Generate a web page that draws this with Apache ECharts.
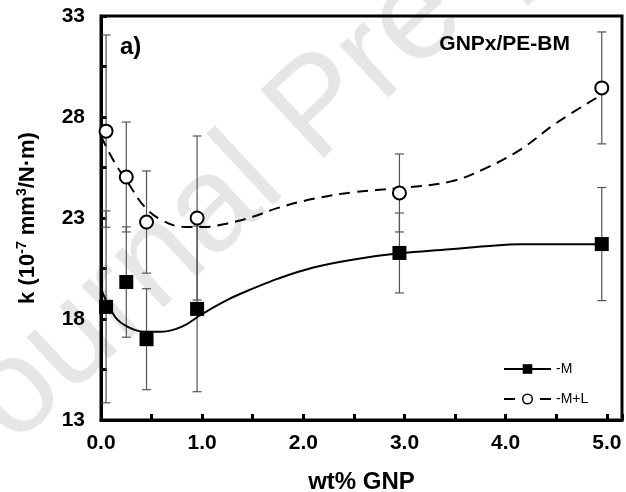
<!DOCTYPE html>
<html>
<head>
<meta charset="utf-8">
<script src="https://cdn.jsdelivr.net/npm/echarts@6/dist/echarts.min.js"></script>
<style>
  html, body { margin: 0; padding: 0; background: #fff; }
  #main { width: 626px; height: 492px; }
</style>
</head>
<body>
<div id="main"></div>
<script>
var FONT = '"Liberation Sans", Arial, sans-serif'

// measured points (wt% GNP, k) and error half-widths
var xM = [0.05, 0.25, 0.45, 0.95, 2.95, 4.95]
var yM = [18.6, 19.83, 17.0, 18.5, 21.27, 21.71]
var errM = [4.75, 2.73, 2.5, 4.1, 1.98, 2.8]

var xML = [0.05, 0.25, 0.45, 0.95, 2.95, 4.95]
var yML = [27.3, 25.03, 22.8, 23.0, 24.24, 29.44]
var errML = [4.76, 2.72, 2.53, 4.06, 1.93, 2.77]

// fitted trend curves
var fitX = [0, 0.14, 0.27, 0.43, 0.6, 0.8, 1.0, 1.25, 1.5, 1.75, 2.1, 2.5, 2.95, 3.45, 3.8, 4.15, 4.5, 4.95]
var fitM = [19.5, 18.1, 17.6, 17.37, 17.37, 17.62, 18.25, 18.95, 19.5, 20.0, 20.55, 20.95, 21.25, 21.45, 21.6, 21.7, 21.7, 21.7]
var fitML = [27.05, 25.7, 24.72, 23.56, 22.9, 22.57, 22.55, 22.73, 23.06, 23.5, 23.95, 24.28, 24.48, 24.8, 25.46, 26.4, 27.7, 29.1]

function pairs (xs, ys) {
  return xs.map(function (x, i) { return [x, ys[i]] })
}
function triples (xs, ys, es) {
  return xs.map(function (x, i) { return [x, ys[i], es[i]] })
}

function renderErr (params, api) {
  var x = api.value(0), y = api.value(1), e = api.value(2)
  var hi = api.coord([x, y + e])
  var lo = api.coord([x, y - e])
  var w = 4.5
  var st = { stroke: '#555', lineWidth: 1.2 }
  return {
    type: 'group',
    children: [
      { type: 'line', shape: { x1: hi[0], y1: hi[1], x2: lo[0], y2: lo[1] }, style: st },
      { type: 'line', shape: { x1: hi[0] - w, y1: hi[1], x2: hi[0] + w, y2: hi[1] }, style: st },
      { type: 'line', shape: { x1: lo[0] - w, y1: lo[1], x2: lo[0] + w, y2: lo[1] }, style: st }
    ]
  }
}

var chart = echarts.init(document.getElementById('main'))
var option = {
  animation: false,
  graphic: [{
    // watermark
    type: 'text',
    x: -15,
    y: 515,
    rotation: 43 * Math.PI / 180,
    z: -10,
    silent: true,
    style: {
      text: 'Journal Pre-proof',
      font: '135px ' + FONT,
      fill: '#e6e6e6',
      textAlign: 'left',
      textVerticalAlign: 'bottom'
    }
  }, {
    type: 'text',
    left: 120,
    top: 35,
    style: { text: 'a)', font: 'bold 24px ' + FONT, fill: '#000' }
  }, {
    type: 'text',
    right: 56,
    top: 34,
    style: { text: 'GNPx/PE-BM', font: 'bold 21px ' + FONT, fill: '#000' }
  }],
  legend: {
    orient: 'vertical',
    left: 503,
    top: 362,
    padding: 0,
    itemWidth: 47,
    itemHeight: 12,
    itemGap: 16,
    textStyle: { fontSize: 14, color: '#000', fontFamily: FONT },
    data: [
      { name: '-M', itemStyle: { color: '#000', borderWidth: 0 }, lineStyle: { color: '#000', width: 2, type: 'solid' } },
      { name: '-M+L', itemStyle: { color: '#fff', borderColor: '#000', borderWidth: 1.5 }, lineStyle: { color: '#000', width: 2, type: [11, 7] } }
    ]
  },
  grid: {
    left: 101,
    right: 4,
    top: 16,
    bottom: 72,
    outerBoundsMode: 'none',
    containLabel: false,
    show: true,
    borderColor: '#000',
    borderWidth: 3
  },
  xAxis: {
    type: 'value',
    min: 0,
    max: 5.15,
    interval: 0.5,
    name: 'wt% GNP',
    nameLocation: 'middle',
    nameGap: 50,
    nameTextStyle: { fontSize: 24, fontWeight: 'bold', color: '#000', fontFamily: FONT },
    axisLine: { lineStyle: { color: '#000', width: 3 } },
    axisTick: { inside: true, length: 6, lineStyle: { color: '#000', width: 3 } },
    axisLabel: {
      margin: 13,
      fontSize: 21,
      fontWeight: 'bold',
      color: '#000',
      fontFamily: FONT,
      formatter: function (v) {
        return (Math.abs(v - Math.round(v)) < 1e-6 && v <= 5.01) ? v.toFixed(1) : ''
      }
    },
    splitLine: { show: false }
  },
  yAxis: [{
    type: 'value',
    min: 13,
    max: 33,
    position: 'left',
    axisLine: { show: true, lineStyle: { color: '#000', width: 3 } },
    axisTick: { show: false },
    axisLabel: { show: false },
    splitLine: { show: false }
  }, {
    // tick/label axis, offset so ticks start at 13
    type: 'value',
    min: 0,
    max: 20,
    interval: 2.5,
    position: 'left',
    name: '{n|k (10}{s|-7}{n| mm}{s|3}{n|/N·m)}',
    nameLocation: 'middle',
    nameGap: 60,
    nameTextStyle: {
      rich: {
        n: { fontSize: 22, fontWeight: 'bold', color: '#000', fontFamily: FONT, lineHeight: 26 },
        s: { fontSize: 14, fontWeight: 'bold', color: '#000', fontFamily: FONT, lineHeight: 16, verticalAlign: 'top' }
      }
    },
    axisLine: { show: false },
    axisTick: { inside: true, length: 6, lineStyle: { color: '#000', width: 3 } },
    axisLabel: {
      margin: 16,
      fontSize: 21,
      fontWeight: 'bold',
      color: '#000',
      fontFamily: FONT,
      formatter: function (v) {
        return Math.abs(v % 5) < 1e-6 ? String(v + 13) : ''
      }
    },
    splitLine: { show: false }
  }],
  series: [{
    name: 'errM',
    type: 'custom',
    renderItem: renderErr,
    encode: { x: 0, y: 1 },
    yAxisIndex: 0,
    z: 1,
    data: triples(xM, yM, errM)
  }, {
    name: 'errML',
    type: 'custom',
    renderItem: renderErr,
    encode: { x: 0, y: 1 },
    yAxisIndex: 0,
    z: 1,
    data: triples(xML, yML, errML)
  }, {
    name: '-M',
    type: 'line',
    yAxisIndex: 0,
    smooth: 0.4,
    symbol: 'rect',
    showSymbol: false,
    z: 2,
    itemStyle: { color: '#000' },
    lineStyle: { color: '#000', width: 2 },
    data: pairs(fitX, fitM)
  }, {
    name: '-M+L',
    type: 'line',
    yAxisIndex: 0,
    smooth: 0.4,
    symbol: 'circle',
    showSymbol: false,
    z: 2,
    itemStyle: { color: '#fff', borderColor: '#000', borderWidth: 1.5 },
    lineStyle: { color: '#000', width: 2, type: [11, 7] },
    data: pairs(fitX, fitML)
  }, {
    name: 'ptsM',
    type: 'scatter',
    yAxisIndex: 0,
    symbol: 'rect',
    symbolSize: 14,
    z: 3,
    itemStyle: { color: '#000', opacity: 1 },
    data: pairs(xM, yM)
  }, {
    name: 'ptsML',
    type: 'scatter',
    yAxisIndex: 0,
    symbol: 'circle',
    symbolSize: 13,
    z: 3,
    itemStyle: { color: '#fff', borderColor: '#000', borderWidth: 2, opacity: 1 },
    data: pairs(xML, yML)
  }]
}
chart.setOption(option)
</script>
</body>
</html>
